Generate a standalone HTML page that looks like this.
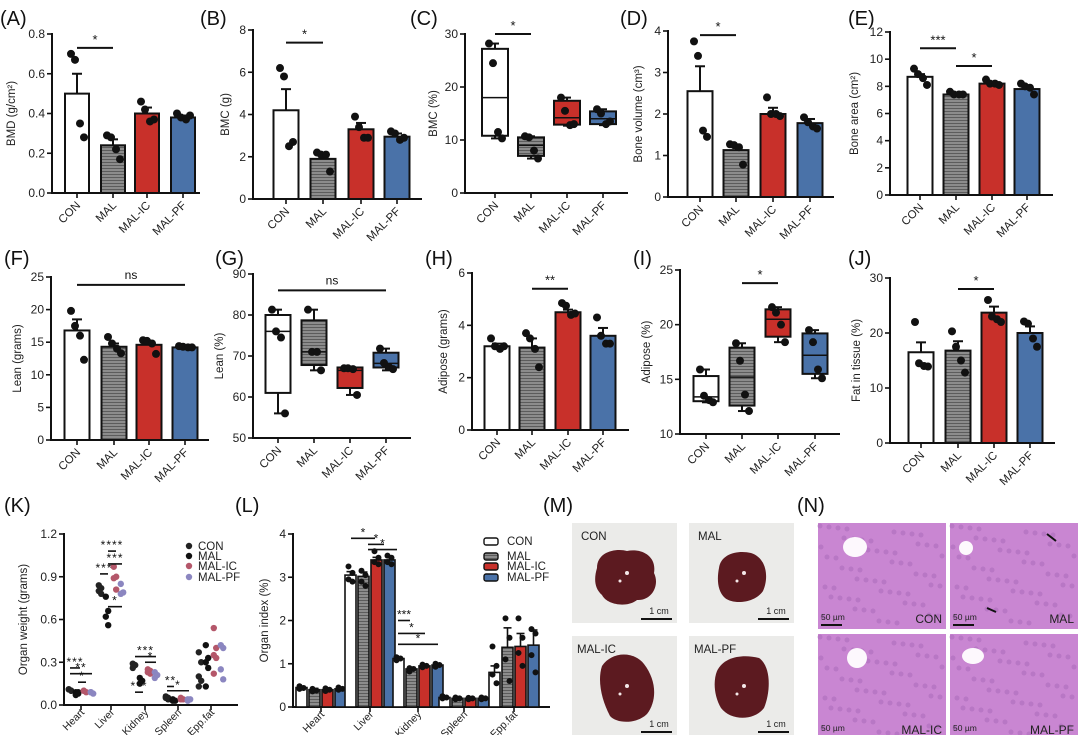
<!DOCTYPE html>
<html><head><meta charset="utf-8">
<style>
html,body{margin:0;padding:0;background:#fff;}
svg{display:block;font-family:"Liberation Sans",sans-serif;}
</style></head>
<body>
<svg id="fig" width="1080" height="735" viewBox="0 0 1080 735" xmlns="http://www.w3.org/2000/svg">
<defs>
<pattern id="hatch" width="3" height="3" patternUnits="userSpaceOnUse"><rect width="3" height="3" fill="#8c8c8c"/><path d="M0 0.5H3" stroke="#5c5c5c" stroke-width="1"/></pattern>
</defs>
</svg>
<script>
const groups=["CON","MAL","MAL-IC","MAL-PF"];
const fills=["#ffffff","url(#hatch)","#c8302a","#4a72a8"];
// Panel A
const A_mean=[0.5,0.24,0.40,0.38];
const A_err=[0.6,0.27,0.43,0.39];
const A_dots=[[0.7,0.67,0.35,0.28],[0.29,0.28,0.22,0.17],[0.46,0.42,0.36,0.37],[0.40,0.38,0.37,0.39]];
const A_ticks=[0,0.2,0.4,0.6,0.8];
// Panel B
const B_mean=[4.2,1.9,3.3,2.95];
const B_err=[5.2,2.1,3.6,3.1];
const B_dots=[[6.2,5.8,2.5,2.7],[2.2,2.1,2.1,1.3],[3.9,3.4,2.9,2.9],[3.2,3.1,2.8,2.9]];
const B_ticks=[0,2,4,6,8];
// Panel C (box: min,q1,med,q3,max)
const C_box=[[10.3,10.8,18,27.2,28.2],[6.5,7,9,10.5,10.7],[12.7,12.9,14.2,17.4,18],[12.8,13,14,15.4,15.8]];
const C_dots=[[28.2,24.5,11.5,10.3],[10.7,10.5,8,6.5],[18,15.5,12.8,13],[15.8,15,13,13.5]];
const C_ticks=[0,10,20,30];
// Panel D
const D_mean=[2.55,1.13,2.0,1.78];
const D_err=[3.15,1.25,2.15,1.88];
const D_dots=[[3.75,3.4,1.6,1.45],[1.27,1.25,1.2,0.78],[2.4,2.0,2.0,1.95],[1.92,1.8,1.7,1.65]];
const D_ticks=[0,1,2,3,4];
// Panel E
const E_mean=[8.7,7.4,8.2,7.8];
const E_err=[8.9,7.5,8.35,8.0];
const E_dots=[[9.3,8.9,8.6,8.1],[7.6,7.4,7.4,7.4],[8.5,8.2,8.2,8.1],[8.2,8.0,7.9,7.4]];
const E_ticks=[0,2,4,6,8,10,12];
// Panel F
const F_mean=[16.8,14.3,14.6,14.2];
const F_err=[18.5,14.8,15,14.4];
const F_dots=[[19.8,17.5,16,12.3],[15.8,14.8,14,13.3],[15.3,15.2,14.8,13.2],[14.4,14.3,14.2,14.2]];
const F_ticks=[0,5,10,15,20,25];
// Panel G
const G_box=[[56,61,76,80,81.3],[66.5,67.8,71,78.7,81.3],[60.5,62.2,66.5,67.2,67.2],[66.5,67.2,68.2,70.8,71.8]];
const G_dots=[[81.3,76,74.5,56],[81.3,71,71,66.5],[67,67,66.8,60.5],[71.8,68.3,67.3,66.8]];
const G_ticks=[50,60,70,80,90];
// Panel H
const H_mean=[3.2,3.15,4.5,3.6];
const H_err=[3.3,3.5,4.6,3.9];
const H_dots=[[3.5,3.2,3.1,3.2],[3.7,3.5,3.1,2.4],[4.85,4.75,4.4,4.45],[4.3,3.6,3.3,3.3]];
const H_ticks=[0,2,4,6];
// Panel I
const I_box=[[12.9,13.0,13.4,15.3,15.9],[12.1,12.6,15.2,17.9,18.3],[18.4,18.9,20.5,21.4,21.6],[15.1,15.5,17.2,19.2,19.5]];
const I_dots=[[15.9,13.5,13.1,12.9],[18.3,16.7,13.6,12.1],[21.6,21.1,20,18.4],[19.5,18.4,15.9,15.1]];
const I_ticks=[10,15,20,25];
// Panel J
const J_mean=[16.5,16.8,23.7,20];
const J_err=[18.3,18.5,24.8,21.2];
const J_dots=[[22,14.5,14,13.9],[20.3,17.5,15,12.8],[26,23,22.5,22],[22.1,21.7,19,17.5]];
const J_ticks=[0,10,20,30];
// Panel K
const organs=["Heart","Liver","Kidney","Spleen","Epp.fat"];
const K_vals=[
 [[0.11,0.10,0.11,0.10],[0.09,0.08,0.07,0.09],[0.10,0.09,0.10],[0.09,0.08,0.09]],
 [[0.84,0.82,0.80,0.78],[0.76,0.66,0.62,0.56],[0.97,0.90,0.89,0.81],[0.85,0.79,0.78]],
 [[0.29,0.28,0.26],[0.19,0.17,0.15],[0.25,0.24,0.23,0.22],[0.23,0.21,0.19]],
 [[0.06,0.05,0.05,0.04],[0.04,0.03,0.03],[0.05,0.04,0.04],[0.04,0.04,0.03]],
 [[0.37,0.30,0.20,0.17,0.13],[0.42,0.33,0.30,0.26,0.13],[0.54,0.40,0.35,0.33,0.22],[0.42,0.40,0.25,0.18]]];
const K_ticks=[0,0.3,0.6,0.9,1.2];
// Panel L
const L_mean=[[0.45,0.40,0.40,0.42],[3.05,3.02,3.40,3.40],[1.12,0.88,0.95,0.97],[0.22,0.20,0.20,0.20],[0.80,1.38,1.40,1.43]];
const L_err=[[0.03,0.03,0.03,0.03],[0.08,0.10,0.06,0.06],[0.04,0.04,0.03,0.03],[0.02,0.02,0.02,0.02],[0.15,0.45,0.30,0.35]];
const L_dots=[[[0.48,0.44,0.42],[0.42,0.38,0.36],[0.43,0.40,0.37],[0.45,0.42,0.40]],[[3.25,3.1,2.95,2.9],[3.15,3.05,2.9,2.8],[3.6,3.45,3.35,3.3],[3.5,3.45,3.35,3.3]],[[1.15,1.12,1.08],[0.9,0.88,0.82],[0.98,0.95,0.92],[1.0,0.97,0.93]],[[0.25,0.22,0.2],[0.22,0.2,0.18],[0.21,0.2,0.18],[0.22,0.2,0.18]],[[1.4,0.95,0.75,0.55],[2.05,1.6,1.1,0.6],[2.05,1.6,1.25,0.95],[1.8,1.7,1.2,0.8]]];
const L_ticks=[0,1,2,3,4];

const svg=document.getElementById('fig');
const NS='http://www.w3.org/2000/svg';
function el(tag,attrs,parent){const e=document.createElementNS(NS,tag);for(const k in attrs)e.setAttribute(k,attrs[k]);(parent||svg).appendChild(e);return e;}
function txt(s,attrs,parent){const e=el('text',attrs,parent);e.textContent=s;return e;}
function scale(v0,v1,p0,p1){return v=>p0+(v-v0)/(v1-v0)*(p1-p0);}
function fmt(v,dec){return v.toFixed(dec);}

function axes(g,P){
  const y=scale(P.ymin,P.ymax,P.yb,P.yt);
  const ya=el('line',{x1:P.ax,y1:P.yt-1,x2:P.ax,y2:P.yb+1,stroke:'#111','stroke-width':2},g);
  
  
  const xa=el('line',{x1:P.ax-1,y1:P.yb,x2:P.xe,y2:P.yb,stroke:'#111','stroke-width':2},g);
  
  
  P.ticks.forEach(t=>{
    el('line',{x1:P.ax-5,y1:y(t),x2:P.ax,y2:y(t),stroke:'#111','stroke-width':1.6},g);
    const tl=txt(fmt(t,P.dec||0),{x:P.ax-7,y:y(t)+4,'font-size':12,'text-anchor':'end',fill:'#222'},g);
    
    
  });
  const cy=(P.yt+P.yb)/2, tx=P.ax-(P.titleOff||33);
  const tt=txt(P.title,{x:tx,y:cy,'font-size':11.5,'text-anchor':'middle',fill:'#222',transform:`rotate(-90 ${tx} ${cy})`},g);
  
  
  return y;
}
function xlabels(g,P,labels,centers){
  const lo=P.labOff||13, fs=P.labFs||11.5;
  labels.forEach((s,i)=>{
    const cx=centers[i];
    el('line',{x1:cx,y1:P.yb,x2:cx,y2:P.yb+5,stroke:'#111','stroke-width':1.6},g);
    const lx=cx+4,ly=P.yb+lo;
    const t=txt(s,{x:lx,y:ly,'font-size':fs,'text-anchor':'end',fill:'#222',transform:`rotate(-45 ${lx} ${ly})`},g);
    
    
  });
}
const jit=[-6,-2,3,7,0];
function dots(g,cx,vals,y,r,color){
  vals.forEach((v,j)=>{
    const d=el('circle',{cx:cx+jit[j%5],cy:y(v),r:r||4,fill:color||'#111'},g);
    
    
  });
}
function sig(g,y,x1,x2,v,label){
  const yy=y(v);
  el('line',{x1:x1,y1:yy,x2:x2,y2:yy,stroke:'#111','stroke-width':2},g);
  const t=txt(label,{x:(x1+x2)/2,y:yy-(label=='ns'?6:4),'font-size':label=='ns'?12:13,'text-anchor':'middle',fill:'#111'},g);
  
  
}
function panelLetter(s,x,y){const t=txt(s,{x:x,y:y,'font-size':20,fill:'#111'});}

function barPanel(name,P,means,errs,dts,sigs){
  const g=el('g',{});
  
  
  const y=axes(g,P);
  means.forEach((m,i)=>{
    const cx=P.cs[i];
    el('line',{x1:cx,y1:y(m),x2:cx,y2:y(errs[i]),stroke:'#111','stroke-width':2},g);
    el('line',{x1:cx-5,y1:y(errs[i]),x2:cx+5,y2:y(errs[i]),stroke:'#111','stroke-width':2},g);
    const b=el('rect',{x:cx-P.bw/2,y:y(m),width:P.bw,height:P.yb-y(m),fill:fills[i],stroke:'#111','stroke-width':2},g);
    
    
    dots(g,cx,dts[i],y);
  });
  xlabels(g,P,groups,P.cs);
  (sigs||[]).forEach(s=>sig(g,y,P.cs[s[0]]-(s[4]||0),P.cs[s[1]]+(s[4]||0),s[2],s[3]));
}
function boxPanel(name,P,boxes,dts,sigs){
  const g=el('g',{});
  
  
  const y=axes(g,P);
  boxes.forEach((b,i)=>{
    const cx=P.cs[i];
    el('line',{x1:cx,y1:y(b[0]),x2:cx,y2:y(b[4]),stroke:'#111','stroke-width':2},g);
    el('line',{x1:cx-4,y1:y(b[4]),x2:cx+4,y2:y(b[4]),stroke:'#111','stroke-width':2},g);
    el('line',{x1:cx-4,y1:y(b[0]),x2:cx+4,y2:y(b[0]),stroke:'#111','stroke-width':2},g);
    const r=el('rect',{x:cx-P.bw/2,y:y(b[3]),width:P.bw,height:y(b[1])-y(b[3]),fill:fills[i],stroke:'#111','stroke-width':2},g);
    
    
    el('line',{x1:cx-P.bw/2,y1:y(b[2]),x2:cx+P.bw/2,y2:y(b[2]),stroke:'#111','stroke-width':1.5},g);
    dots(g,cx,dts[i],y);
  });
  xlabels(g,P,groups,P.cs);
  (sigs||[]).forEach(s=>sig(g,y,P.cs[s[0]]-(s[4]||0),P.cs[s[1]]+(s[4]||0),s[2],s[3]));
}

// Row 1
panelLetter('(A)',0,25);panelLetter('(B)',200,25);panelLetter('(C)',410,25);panelLetter('(D)',620,25);panelLetter('(E)',848,25);
barPanel('panel-a-bmd',{ax:52,xe:200,yt:34,yb:193,ymin:0,ymax:0.8,ticks:A_ticks,dec:1,title:'BMD (g/cm²)',cs:[77,113,147,183],bw:24,titleOff:37},A_mean,A_err,A_dots,[[0,1,0.73,'*']]);
barPanel('panel-b-bmc',{ax:253,xe:422,yt:30,yb:199,ymin:0,ymax:8,ticks:B_ticks,title:'BMC (g)',cs:[286,323,361,397],bw:25,titleOff:24},B_mean,B_err,B_dots,[[0,1,7.4,'*']]);
boxPanel('panel-c-bmc-percent',{ax:465,xe:628,yt:34,yb:193,ymin:0,ymax:30,ticks:C_ticks,title:'BMC (%)',cs:[495,531,567,603],bw:26,titleOff:28},C_box,C_dots,[[0,1,30,'*']]);
barPanel('panel-d-bone-volume',{ax:668,xe:834,yt:31,yb:197,ymin:0,ymax:4,ticks:D_ticks,title:'Bone volume (cm³)',cs:[700,736,773,810],bw:25,titleOff:26},D_mean,D_err,D_dots,[[0,1,3.9,'*']]);
barPanel('panel-e-bone-area',{ax:890,xe:1053,yt:32,yb:195,ymin:0,ymax:12,ticks:E_ticks,title:'Bone area (cm²)',cs:[920,956,992,1027],bw:25,titleOff:32},E_mean,E_err,E_dots,[[0,1,10.8,'***'],[1,2,9.5,'*']]);
// Row 2
panelLetter('(F)',4,265);panelLetter('(G)',215,265);panelLetter('(H)',425,265);panelLetter('(I)',633,265);panelLetter('(J)',848,265);
barPanel('panel-f-lean',{ax:51,xe:209,yt:277,yb:440,ymin:0,ymax:25,ticks:F_ticks,title:'Lean (grams)',cs:[77,114,149,185],bw:25,titleOff:30},F_mean,F_err,F_dots,[[0,3,23.8,'ns']]);
boxPanel('panel-g-lean-percent',{ax:253,xe:411,yt:274,yb:438,ymin:50,ymax:90,ticks:G_ticks,title:'Lean (%)',cs:[278,314,350,386],bw:25,titleOff:30},G_box,G_dots,[[0,3,86,'ns']]);
barPanel('panel-h-adipose',{ax:472,xe:629,yt:273,yb:430,ymin:0,ymax:6,ticks:H_ticks,title:'Adipose (grams)',cs:[497,532,568,603],bw:25,titleOff:25},H_mean,H_err,H_dots,[[1,2,5.4,'**']]);
boxPanel('panel-i-adipose-percent',{ax:680,xe:840,yt:270,yb:434,ymin:10,ymax:25,ticks:I_ticks,title:'Adipose (%)',cs:[706,742,778,815],bw:25,titleOff:30},I_box,I_dots,[[1,2,23.8,'*']]);
barPanel('panel-j-fat-in-tissue',{ax:890,xe:1055,yt:278,yb:443,ymin:0,ymax:30,ticks:J_ticks,title:'Fat in tissue (%)',cs:[921,958,994,1030],bw:25,titleOff:30},J_mean,J_err,J_dots,[[1,2,28,'*']]);

// Row 3 - Panel K
panelLetter('(K)',4,512);panelLetter('(L)',235,512);panelLetter('(M)',543,512);panelLetter('(N)',797,512);
(function(){
  const g=el('g',{});
  
  
  const P={ax:64,xe:238,yt:534,yb:705,ymin:0,ymax:1.2,ticks:K_ticks,dec:1,title:'Organ weight (grams)',titleOff:37,labOff:8,labFs:10.5};
  const y=axes(g,P);
  const cs=[81,111,145,178,211];
  const kc=['#222','#111','#b4576a','#8b86c0'];
  const off=[-11,-4,4,11];
  organs.forEach((o,i)=>{
    K_vals[i].forEach((vals,j)=>{
      vals.forEach((v,k)=>{
        const c=el('circle',{cx:cs[i]+off[j]+((k%2)?1.2:-1.2),cy:y(v),r:3.2,fill:kc[j]},g);
        
        
      });
    });
  });
  xlabels(g,P,organs,cs);
  const ks=[[70,80,0.26,'***'],[70,92,0.22,'**'],[78,86,0.16,'*'],[100,108,0.92,'***'],[108,116,1.08,'****'],[108,122,0.99,'***'],[108,122,0.69,'*'],[135,156,0.34,'***'],[145,156,0.30,'*'],[135,143,0.09,'***'],[167,174,0.13,'**'],[167,189,0.10,'*']];
  ks.forEach(s=>{
    const yy=y(s[2]);
    el('line',{x1:s[0],y1:yy,x2:s[1],y2:yy,stroke:'#111','stroke-width':1.6},g);
    const t=txt(s[3],{x:(s[0]+s[1])/2,y:yy-2,'font-size':12,'text-anchor':'middle',fill:'#111','letter-spacing':'1'},g);
    
    
  });
  groups.forEach((s,i)=>{
    const ly=[546,556,566,577][i];
    el('circle',{cx:189,cy:ly,r:3.2,fill:kc[i]},g);
    const t=txt(s,{x:198,y:ly+4,'font-size':11.5,fill:'#222'},g);
    
    
  });
})();

// Panel L
(function(){
  const g=el('g',{});
  
  
  const P={ax:293,xe:550,yt:534,yb:707,ymin:0,ymax:4,ticks:L_ticks,title:'Organ index (%)',titleOff:25,labOff:8,labFs:10.5};
  const y=axes(g,P);
  const cs=[321,370,418,464,514];
  const off=[-19.5,-6.5,6.5,19.5],bw=11;
  organs.forEach((o,i)=>{
    L_mean[i].forEach((m,j)=>{
      const cx=cs[i]+off[j];
      const top=y(m+L_err[i][j]);
      el('line',{x1:cx,y1:y(m),x2:cx,y2:top,stroke:'#111','stroke-width':1.6},g);
      el('line',{x1:cx-4,y1:top,x2:cx+4,y2:top,stroke:'#111','stroke-width':1.6},g);
      const b=el('rect',{x:cx-bw/2,y:y(m),width:bw,height:P.yb-y(m),fill:fills[j],stroke:'#111','stroke-width':1.6},g);
      
      
      L_dots[i][j].forEach((v,k)=>{
        const d=el('circle',{cx:cx+(k%2?2:-2),cy:y(v),r:3,fill:'#111'},g);
        
        
      });
    });
  });
  xlabels(g,P,organs,cs);
  const ls=[[351,375,3.9,'*'],[368,384,3.76,'*'],[368,397,3.64,'*'],[398,410,2.0,'***'],[398,425,1.7,'*'],[398,438,1.45,'*']];
  ls.forEach(s=>{
    const yy=y(s[2]);
    el('line',{x1:s[0],y1:yy,x2:s[1],y2:yy,stroke:'#111','stroke-width':1.6},g);
    const t=txt(s[3],{x:(s[0]+s[1])/2,y:yy-2,'font-size':12,'text-anchor':'middle',fill:'#111'},g);
    
    
  });
  groups.forEach((s,i)=>{
    const ly=[541,556,566,577][i];
    el('rect',{x:484,y:ly-3,width:14,height:7,rx:2,fill:fills[i],stroke:'#111','stroke-width':1.4},g);
    const t=txt(s,{x:507,y:ly+4,'font-size':11.5,fill:'#222'},g);
    
    
  });
})();

// Panel M photos
(function(){
  const g=el('g',{});
  
  
  const boxes=[[572,523,'CON'],[689,523,'MAL'],[572,636,'MAL-IC'],[689,636,'MAL-PF']];
  boxes.forEach((b,i)=>{
    const [x,y,l]=b;
    const r=el('rect',{x:x,y:y,width:105,height:100,fill:'#ebebe9'},g);
    
    
    const shapes=[`M${x+25},${y+45} C${x+25},${y+28} ${x+45},${y+25} ${x+55},${y+28} C${x+68},${y+25} ${x+85},${y+32} ${x+82},${y+50} C${x+88},${y+62} ${x+80},${y+78} ${x+65},${y+77} C${x+55},${y+85} ${x+35},${y+82} ${x+30},${y+72} C${x+22},${y+65} ${x+22},${y+55} ${x+25},${y+45}Z`,
    `M${x+30},${y+45} C${x+32},${y+30} ${x+50},${y+27} ${x+62},${y+30} C${x+78},${y+35} ${x+80},${y+55} ${x+74},${y+68} C${x+66},${y+80} ${x+45},${y+82} ${x+36},${y+75} C${x+28},${y+68} ${x+28},${y+55} ${x+30},${y+45}Z`,
    `M${x+30},${y+30} C${x+40},${y+15} ${x+62},${y+15} ${x+72},${y+28} C${x+85},${y+45} ${x+85},${y+65} ${x+75},${y+78} C${x+65},${y+88} ${x+45},${y+88} ${x+38},${y+80} C${x+30},${y+65} ${x+25},${y+45} ${x+30},${y+30}Z`,
    `M${x+28},${y+35} C${x+35},${y+20} ${x+55},${y+18} ${x+70},${y+22} C${x+82},${y+30} ${x+82},${y+55} ${x+75},${y+72} C${x+65},${y+85} ${x+42},${y+85} ${x+32},${y+72} C${x+25},${y+60} ${x+24},${y+45} ${x+28},${y+35}Z`][i];
    el('path',{d:shapes,fill:'#5c1a20'},g);
    el('circle',{cx:x+55,cy:y+50,r:2,fill:'#f4e8e8'},g);
    el('circle',{cx:x+48,cy:y+58,r:1.5,fill:'#f4e8e8'},g);
    const t=txt(l,{x:x+(i<2?9:5),y:y+17,'font-size':11.5,fill:'#222'},g);
    
    
    el('line',{x1:x+69,y1:y+96,x2:x+100,y2:y+96,stroke:'#111','stroke-width':2},g);
    txt('1 cm',{x:x+87,y:y+91,'font-size':9,'text-anchor':'middle',fill:'#222'},g);
  });
})();

// Panel N histology
(function(){
  const g=el('g',{});
  
  
  const boxes=[[818,523,'CON',[855,547,12,10]],[950,523,'MAL',[966,548,7,7]],[818,634,'MAL-IC',[857,658,10,10]],[950,634,'MAL-PF',[973,656,11,8]]];
  boxes.forEach(b=>{
    const [x,y,l,h]=b;
    const r=el('rect',{x:x,y:y,width:128,height:106,fill:'#c986d2'},g);
    
    
    for(let k=0;k<60;k++){
      const px=x+((k*37)%124)+2, py=y+((k*53)%100)+3;
      el('circle',{cx:px,cy:py,r:2.5,fill:'#a868b8',opacity:0.5},g);
    }
    el('ellipse',{cx:h[0],cy:h[1],rx:h[2],ry:h[3],fill:'#fdf8fd'},g);
    const t=txt(l,{x:x+124,y:y+100,'font-size':12,'text-anchor':'end',fill:'#222'},g);
    
    
    el('line',{x1:x+3,y1:y+102,x2:x+24,y2:y+102,stroke:'#111','stroke-width':2},g);
    txt('50 µm',{x:x+3,y:y+97,'font-size':8.5,fill:'#222'},g);
  });
  el('path',{d:'M1047,534 L1056,541',stroke:'#111','stroke-width':2},g);
  el('path',{d:'M987,608 L996,612',stroke:'#111','stroke-width':2},g);
})();
</script>
</body></html>
